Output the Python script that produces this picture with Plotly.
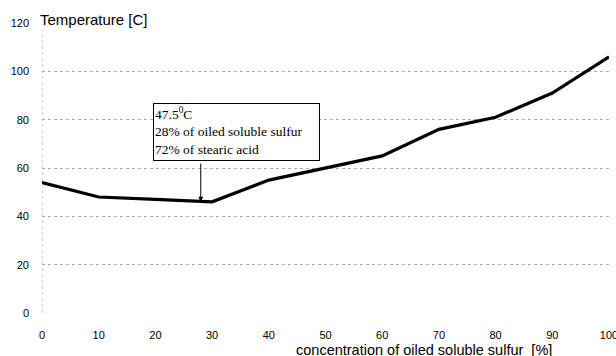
import plotly.graph_objects as go

concentration = [0, 10, 20, 30, 40, 50, 60, 70, 80, 90, 100]
temperature = [54, 48, 47, 46, 55, 60, 65, 76, 81, 91, 106]
x_ticks = [0, 10, 20, 30, 40, 50, 60, 70, 80, 90, 100]
y_ticks = [0, 20, 40, 60, 80, 100, 120]
min_x, min_y = 28, 46
box_text = "47.5<sup>0</sup>C<br>28% of oiled soluble sulfur<br>72% of stearic acid"

fig = go.Figure()
fig.add_trace(go.Scatter(x=concentration, y=temperature, mode="lines",
                         line=dict(color="black", width=3.2), showlegend=False))

fig.update_layout(
    width=616, height=356, margin=dict(l=42, r=7, t=23, b=43, autoexpand=False),
    paper_bgcolor="white", plot_bgcolor="white",
    font=dict(family="Liberation Sans, Arial", size=11, color="black"),
    xaxis=dict(range=[0, 100], tickvals=x_ticks, showgrid=False, zeroline=False,
               showline=False, ticks="", tickfont=dict(size=11), automargin=False,
               ticklabelstandoff=14, ticklabeloverflow="allow"),
    yaxis=dict(range=[0, 120], tickvals=y_ticks, showgrid=True, gridcolor="#a8a8a8",
               griddash="dot", gridwidth=1, zeroline=False, showline=False,
               ticks="", tickfont=dict(size=11), ticklabelstandoff=12, automargin=False,
               ticklabeloverflow="allow"),
)
# dotted left axis line
fig.add_shape(type="line", xref="x", yref="y", x0=0, x1=0, y0=0, y1=120,
              line=dict(color="#a8a8a8", width=1, dash="dot"))

fig.add_annotation(x=0, y=120, xref="x", yref="y", xanchor="left", yanchor="middle",
                   text="Temperature [C]", showarrow=False, bgcolor="white",
                   font=dict(size=15, family="Liberation Sans, Arial"), xshift=-4, yshift=4)

fig.add_annotation(x=min_x, y=min_y, xref="x", yref="y", ax=min_x, ay=62.5,
                   axref="x", ayref="y", text="", showarrow=True, arrowhead=2,
                   arrowsize=1, arrowwidth=1, arrowcolor="black")

fig.add_annotation(x=19.6, y=86.8, xref="x", yref="y", xanchor="left", yanchor="top",
                   text=box_text, showarrow=False, align="left", valign="top",
                   width=163, height=54, bgcolor="white",
                   bordercolor="black", borderwidth=1, borderpad=1,
                   font=dict(family="Liberation Serif, Times New Roman", size=13.5))

fig.add_annotation(x=0.674, y=0, xref="paper", yref="paper", yshift=-27,
                   text="concentration of oiled soluble sulfur  [%]", showarrow=False,
                   font=dict(size=14.5), xanchor="center", yanchor="top")

fig.write_html("out.html")
